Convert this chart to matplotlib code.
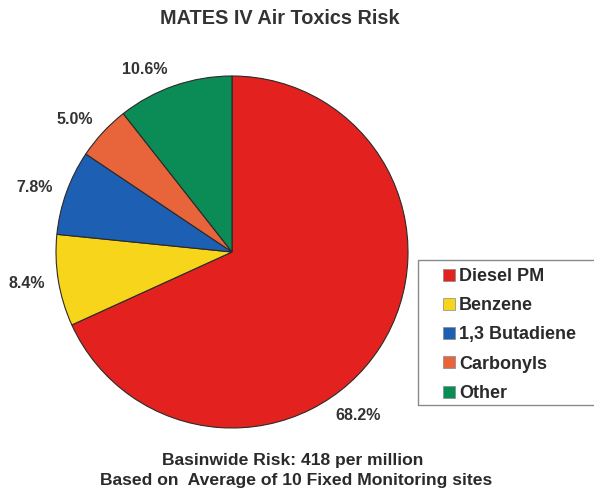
import matplotlib
matplotlib.use("Agg")
import matplotlib.pyplot as plt
from matplotlib.patches import Patch
from matplotlib.lines import Line2D

categories = ["Diesel PM", "Benzene", "1,3 Butadiene", "Carbonyls", "Other"]
values = [68.2, 8.4, 7.8, 5.0, 10.6]
pct_labels = ["68.2%", "8.4%", "7.8%", "5.0%", "10.6%"]
colors = ["#E3221F", "#F7D51B", "#1D5FB3", "#E8643A", "#0B8C57"]
title = "MATES IV Air Toxics Risk"
footer = ["Basinwide Risk: 418 per million", "Based on  Average of 10 Fixed Monitoring sites"]

# label positions in pixels (layout)
label_px = [(358, 416), (27, 284), (35, 187), (75, 119), (145, 70)]

plt.rcParams['font.family'] = ['Liberation Sans', 'DejaVu Sans']
W, H = 594, 495
fig = plt.figure(figsize=(W/100, H/100), dpi=100)
fig.patch.set_facecolor("white")

cx, cy, r = 232, 252, 176
ax = fig.add_axes([(cx - r)/W, (H - cy - r)/H, 2*r/W, 2*r/H])
ax.pie(values, colors=colors, startangle=90, counterclock=False, radius=1,
       wedgeprops=dict(edgecolor="#2a2a2a", linewidth=0.8))
ax.set_xlim(-1, 1)
ax.set_ylim(-1, 1)
ax.set_aspect("equal")
ax.axis("off")

for lab, (px, py) in zip(pct_labels, label_px):
    fig.text(px/W, 1 - py/H, lab, ha="center", va="center", fontsize=11.5,
             fontweight="bold", color="#333333")

fig.text(280/W, 1 - 18/H, title, ha="center", va="center", fontsize=14.3,
         fontweight="bold", color="#333333")
fig.text(293/W, 1 - 461/H, footer[0], ha="center", va="center", fontsize=12.6,
         fontweight="bold", color="#2a2a2a")
fig.text(296/W, 1 - 481/H, footer[1], ha="center", va="center", fontsize=12.6,
         fontweight="bold", color="#2a2a2a")

# legend frame (extends past the right edge)
lx0, lx1, ly0, ly1 = 418, 600, 260, 405
frame_col = "#8a8a8a"
fig.add_artist(Line2D([lx1/W, lx0/W, lx0/W, lx1/W],
                      [1 - ly0/H, 1 - ly0/H, 1 - ly1/H, 1 - ly1/H],
                      color=frame_col, linewidth=1.0))

handles = [Patch(facecolor=c, edgecolor="#888888", linewidth=0.5) for c in colors]
leg = fig.legend(handles, categories, loc="center left",
                 bbox_to_anchor=(443/W, 1 - 335/H), frameon=False,
                 prop=dict(size=13, weight="bold"), handlelength=0.65, handleheight=0.65,
                 handletextpad=0.25, labelspacing=0.68, borderpad=0,
                 borderaxespad=0)
for t in leg.get_texts():
    t.set_color("#2a2a2a")

fig.savefig("out.png", dpi=100, facecolor="white")
